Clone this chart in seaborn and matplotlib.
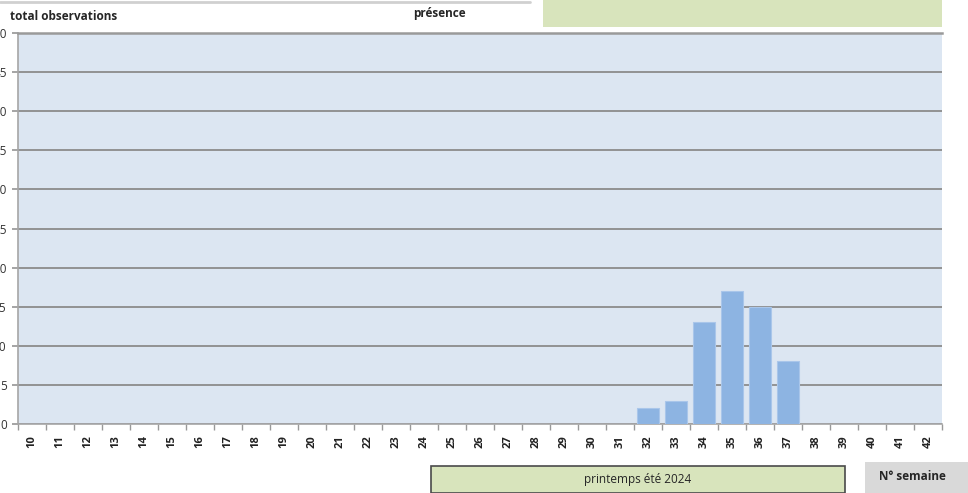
import numpy as np
import pandas as pd
import matplotlib.pyplot as plt
import seaborn as sns
from matplotlib.patches import Rectangle

# Weekly counts
weeks = list(range(10, 43))
counts = [0] * 22 + [2, 3, 13, 17, 15, 8] + [0] * 5
y_ticks = list(range(0, 51, 5))

df = pd.DataFrame({"semaine": [str(w) for w in weeks], "observations": counts})

sns.set_theme(style="white")
plt.rcParams["font.family"] = ["Open Sans", "DejaVu Sans"]

fig = plt.figure(figsize=(9.68, 4.93), dpi=100)
ax = fig.add_axes([18 / 968, 1 - 424 / 493, 924 / 968, 391 / 493])
ax.set_facecolor("#dce6f2")

sns.barplot(data=df, x="semaine", y="observations", order=df["semaine"],
            color="#8db4e2", saturation=1, width=0.78, edgecolor="#a9c6ea",
            linewidth=0.8, ax=ax, zorder=3)

ax.set_ylim(0, 50)
ax.set_xlim(-0.5, len(weeks) - 0.5)
ax.set_yticks(y_ticks)
ax.set_yticklabels([str(v) for v in y_ticks], fontsize=8.5, color="#333333")
ax.yaxis.grid(True, color="#8c8c8c", linewidth=1.3, zorder=0)
ax.set_axisbelow(True)
ax.set_xlabel("")
ax.set_ylabel("")

ax.set_xticks(range(len(weeks)))
ax.set_xticklabels(df["semaine"], rotation=90, fontsize=8, fontweight="bold", color="#222222")
ax.tick_params(axis="x", length=0, pad=8)
ax.tick_params(axis="y", length=4, color="#999999", pad=4, left=True)
ax.set_xticks(np.arange(-0.5, len(weeks), 1), minor=True)
ax.tick_params(axis="x", which="minor", length=4, color="#999999", bottom=True)

ax.spines["right"].set_visible(False)
ax.spines["left"].set_color("#a6a6a6")
ax.spines["left"].set_linewidth(1.2)
ax.spines["bottom"].set_color("#a6a6a6")
ax.spines["bottom"].set_linewidth(1.2)
ax.spines["top"].set_color("#9a9a9a")
ax.spines["top"].set_linewidth(1.8)

# header and footer boxes
fig.add_artist(plt.Line2D([0, 530 / 968], [1 - 2 / 493] * 2, color="#d0d0d0", linewidth=2))
fig.text(10 / 968, 1 - 16 / 493, "total observations", fontsize=8.5, fontweight="bold", va="center")
fig.text(413 / 968, 1 - 14 / 493, "présence", fontsize=8.5, fontweight="bold", va="center")
fig.add_artist(Rectangle((543 / 968, 1 - 27 / 493), 399 / 968, 27 / 493,
                         facecolor="#d8e4bc", edgecolor="none", transform=fig.transFigure))
fig.add_artist(Rectangle((431 / 968, 0), 414 / 968, 27 / 493,
                         facecolor="#d8e4bc", edgecolor="#4a4a4a", linewidth=1.2,
                         transform=fig.transFigure))
fig.text(638 / 968, 1 - 480 / 493, "printemps été 2024", fontsize=8.5, ha="center", va="center")
fig.add_artist(Rectangle((865 / 968, 0), 103 / 968, 31 / 493,
                         facecolor="#d9d9d9", edgecolor="none", transform=fig.transFigure))
fig.text(912 / 968, 1 - 477 / 493, "N° semaine", fontsize=8.5, fontweight="bold", ha="center", va="center")

fig.savefig("out.png", dpi=100)
